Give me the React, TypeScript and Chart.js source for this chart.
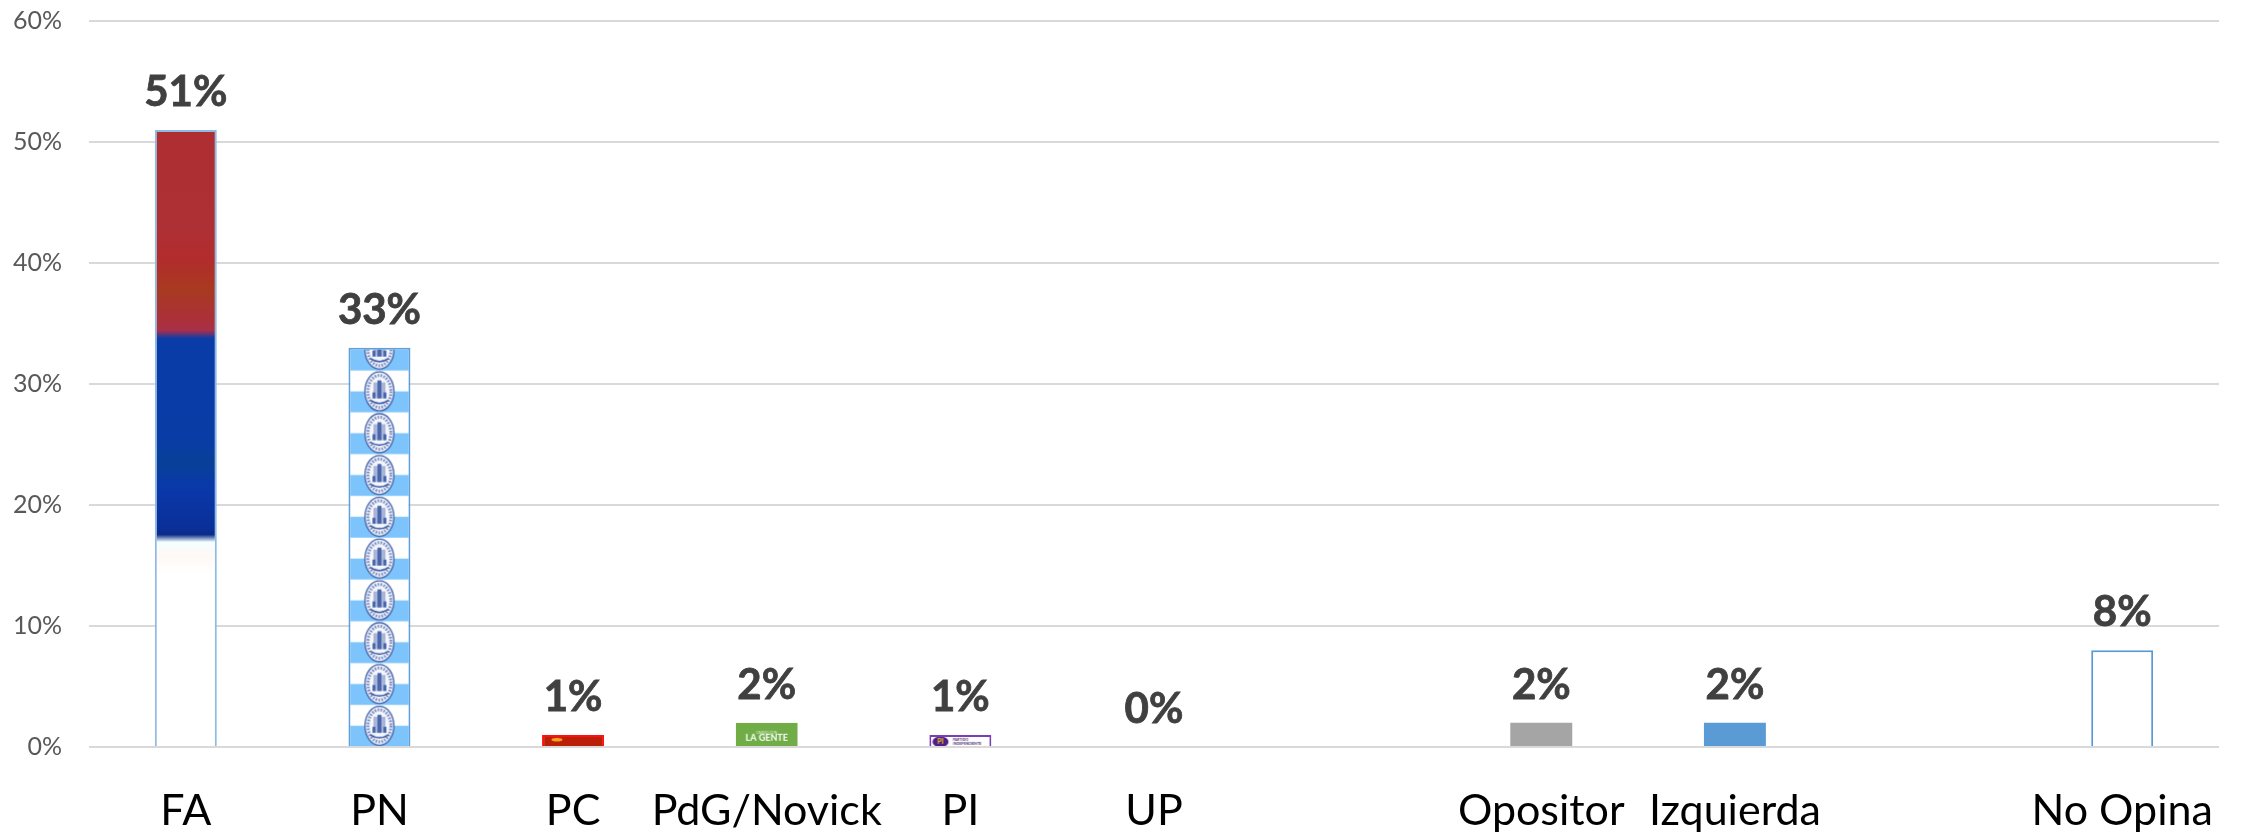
import React, { useEffect, useRef } from "react";
import { Chart, registerables } from "chart.js";

Chart.register(...registerables);

const categories = ["FA", "PN", "PC", "PdG/Novick", "PI", "UP", "", "Opositor", "Izquierda", "", "No Opina"];
const values = [51, 33, 1, 2, 1, 0, null, 2, 2, null, 8];
const yTicks = [0, 10, 20, 30, 40, 50, 60];
const borderColors = ["#8dbbe6", "#5f9fdb", "#ff1010", "#70ad47", "#7a3fb5", "#5b9bd5", "#5b9bd5", "#a5a5a5", "#5b9bd5", "#5b9bd5", "#5b9bd5"];
const plainFills = ["", "", "", "", "", "#ffffff", "#ffffff", "#a5a5a5", "#5b9bd5", "#ffffff", "#ffffff"];
const FONT = "Lato, Carlito, sans-serif";

type Painter = (g: CanvasRenderingContext2D, w: number, h: number) => void;

const paintFA: Painter = (g, w, h) => {
  const grad = g.createLinearGradient(0, 0, 0, h);
  const stops: [number, string][] = [
    [0, "#ae2e32"], [0.16, "#ae3034"], [0.21, "#b22c2c"], [0.26, "#a83a20"], [0.31, "#ac2f3c"],
    [0.325, "#a83048"], [0.338, "#0a3ca8"], [0.5, "#0a3ca6"], [0.54, "#084098"], [0.58, "#0a38aa"],
    [0.645, "#0a3098"], [0.656, "#0a2c88"], [0.668, "#f4ffff"], [0.69, "#fff8f5"], [0.72, "#ffffff"], [1, "#ffffff"],
  ];
  stops.forEach(([p, c]) => grad.addColorStop(p, c));
  g.fillStyle = grad;
  g.fillRect(0, 0, w, h);
};

const paintSeal = (g: CanvasRenderingContext2D, cx: number, cy: number) => {
  g.fillStyle = "#f4f6fb";
  g.strokeStyle = "#3f5ea8";
  g.lineWidth = 1.3;
  g.beginPath();
  g.ellipse(cx, cy, 14.5, 19.5, 0, 0, Math.PI * 2);
  g.fill();
  g.stroke();
  g.strokeStyle = "#6d82bb";
  g.setLineDash([1.5, 1.5]);
  g.lineWidth = 3;
  g.beginPath();
  g.ellipse(cx, cy, 11.5, 16, 0, 0, Math.PI * 2);
  g.stroke();
  g.setLineDash([]);
  g.fillStyle = "#a9b5d6";
  g.fillRect(cx - 6, cy - 9, 12, 16);
  g.fillStyle = "#4a67ae";
  g.fillRect(cx - 2, cy - 11, 4, 18);
  g.fillRect(cx - 7, cy + 1, 3, 6);
  g.fillRect(cx + 4, cy + 1, 3, 6);
  g.strokeStyle = "#2f4f9f";
  g.lineWidth = 1.5;
  g.beginPath();
  g.moveTo(cx - 9, cy + 9);
  g.quadraticCurveTo(cx, cy + 15, cx + 9, cy + 9);
  g.stroke();
};

const paintPN: Painter = (g, w, h) => {
  const period = 41.8;
  g.fillStyle = "#ffffff";
  g.fillRect(0, 0, w, h);
  for (let y = h; y > -period; y -= period) {
    g.fillStyle = "#7cc4fb";
    g.fillRect(0, y - period / 2, w, period / 2);
  }
  for (let y = h; y > -period; y -= period) paintSeal(g, w / 2, y - period / 2);
};

const paintPC: Painter = (g, w, h) => {
  g.fillStyle = "#ba2008";
  g.fillRect(0, 0, w, h);
  g.fillStyle = "#f5a623";
  g.beginPath();
  g.ellipse(w * 0.24, h * 0.4, 5.5, 1.8, 0, 0, Math.PI * 2);
  g.fill();
};

const paintPdG: Painter = (g, w, h) => {
  g.fillStyle = "#70ad47";
  g.fillRect(0, 0, w, h);
  g.fillStyle = "#e8f3dc";
  g.textAlign = "center";
  g.textBaseline = "middle";
  g.font = `3.5px ${FONT}`;
  g.fillText("L'AVISO CON", w / 2, h * 0.42);
  g.fillStyle = "#ffffff";
  g.font = `bold 9px ${FONT}`;
  g.fillText("LA GENTE", w / 2, h * 0.62);
};

const paintPI: Painter = (g, w, h) => {
  g.fillStyle = "#ffffff";
  g.fillRect(0, 0, w, h);
  g.fillStyle = "#4d1f87";
  g.beginPath();
  g.ellipse(w * 0.18, h * 0.58, 8, 5.5, 0, 0, Math.PI * 2);
  g.fill();
  g.fillStyle = "#f5c518";
  g.font = `bold 7px ${FONT}`;
  g.textAlign = "center";
  g.textBaseline = "middle";
  g.fillText("PI", w * 0.18, h * 0.58);
  g.fillStyle = "#4d2f77";
  g.font = `bold 3.6px ${FONT}`;
  g.textAlign = "left";
  g.fillText("PARTIDO", w * 0.38, h * 0.38);
  g.fillText("INDEPENDIENTE", w * 0.38, h * 0.75);
};

const painters: (Painter | null)[] = [paintFA, paintPN, paintPC, paintPdG, paintPI, null, null, null, null, null, null];

const fillFor = (ctx: any) => {
  const i = ctx.dataIndex;
  const painter = i === undefined ? null : painters[i];
  if (!painter) return plainFills[i] || "#ffffff";
  const { x: xs, y: ys } = ctx.chart.scales;
  const v = values[i] as number;
  if (!xs || !ys) return "#ffffff";
  const slot = Math.abs(xs.getPixelForValue(1) - xs.getPixelForValue(0));
  const top = ys.getPixelForValue(v);
  const base = ys.getPixelForValue(0);
  if (!Number.isFinite(slot) || !Number.isFinite(top) || !Number.isFinite(base) || !(slot > 0) || !(base > top)) return "#ffffff";
  const w = Math.max(1, Math.round(slot * 0.32));
  const h = Math.max(1, Math.round(base - top));
  const tile = document.createElement("canvas");
  tile.width = w;
  tile.height = h;
  painter(tile.getContext("2d") as CanvasRenderingContext2D, w, h);
  const pattern = ctx.chart.ctx.createPattern(tile, "no-repeat") as CanvasPattern;
  pattern.setTransform(new DOMMatrix().translate(xs.getPixelForValue(i) - w / 2, top));
  return pattern;
};

const valueLabels = {
  id: "valueLabels",
  afterDatasetsDraw(chart: any) {
    const g = chart.ctx;
    const meta = chart.getDatasetMeta(0);
    g.save();
    g.font = `bold 42px ${FONT}`;
    g.fillStyle = "#404040";
    g.strokeStyle = "#404040";
    g.lineWidth = 0.8;
    g.textAlign = "center";
    g.textBaseline = "alphabetic";
    meta.data.forEach((bar: any, i: number) => {
      if (values[i] === null) return;
      g.fillText(`${values[i]}%`, bar.x, bar.y - 24);
      g.strokeText(`${values[i]}%`, bar.x, bar.y - 24);
    });
    g.restore();
  },
};

export default function App() {
  const ref = useRef<HTMLCanvasElement>(null);
  useEffect(() => {
    const chart = new Chart(ref.current as HTMLCanvasElement, {
      type: "bar",
      plugins: [valueLabels],
      data: {
        labels: categories,
        datasets: [
          {
            data: values,
            backgroundColor: fillFor,
            borderColor: borderColors,
            borderWidth: (c: any) => (c.dataIndex === 7 || c.dataIndex === 8 || c.dataIndex === 3 ? 0 : 2),
            barPercentage: 0.32,
            categoryPercentage: 1,
          },
        ],
      },
      options: {
        animation: false,
        responsive: false,
        layout: { padding: { top: 21, right: 22, left: 0, bottom: 0 } },
        plugins: { legend: { display: false }, tooltip: { enabled: false }, title: { display: false } },
        scales: {
          x: {
            afterFit: (s: any) => { s.height = 85; s.paddingLeft = 0; s.paddingRight = 0; },
            grid: { display: false, drawTicks: false },
            border: { display: false },
            ticks: {
              autoSkip: false,
              maxRotation: 0,
              minRotation: 0,
              padding: 38,
              color: "#000000",
              font: { family: FONT, size: 43 },
            },
          },
          y: {
            min: 0,
            max: 60,
            afterFit: (s: any) => { s.width = 89; s.paddingTop = 0; s.paddingBottom = 0; },
            afterBuildTicks: (s: any) => { s.ticks = yTicks.map((value) => ({ value })); },
            grid: { color: "#d9d9d9", lineWidth: 2, drawTicks: false },
            border: { display: false },
            ticks: {
              padding: 27,
              color: "#595959",
              font: { family: FONT, size: 25 },
              callback: (v: any) => `${v}%`,
            },
          },
        },
      },
    });
    chart.update();
    return () => chart.destroy();
  }, []);
  return (
    <div style={{ position: "absolute", left: 0, top: 0, width: 2241, height: 832, background: "#ffffff" }}>
      <canvas ref={ref} width={2241} height={832} style={{ display: "block" }} />
    </div>
  );
}
